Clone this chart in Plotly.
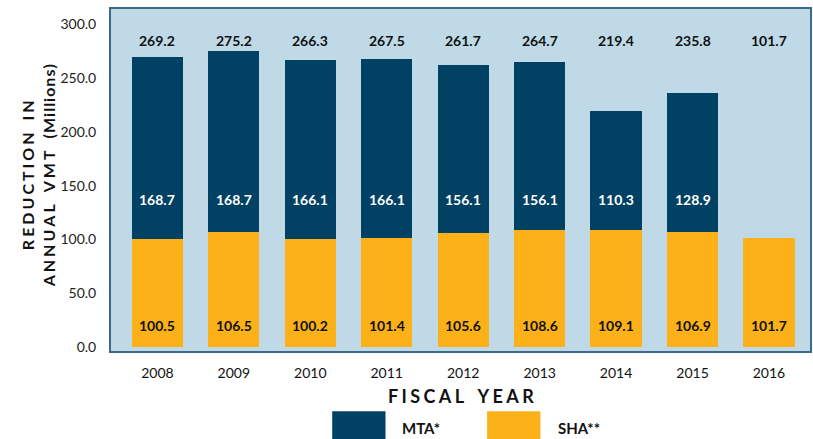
import plotly.graph_objects as go

# Fiscal years and reduction in annual VMT (millions) by agency
years = ["2008", "2009", "2010", "2011", "2012", "2013", "2014", "2015", "2016"]
sha = [100.5, 106.5, 100.2, 101.4, 105.6, 108.6, 109.1, 106.9, 101.7]
mta = [168.7, 168.7, 166.1, 166.1, 156.1, 156.1, 110.3, 128.9, None]
y_ticks = [0, 50, 100, 150, 200, 250, 300]

MTA_COLOR = "#004164"
SHA_COLOR = "#FBB117"
FONT = "Lato, sans-serif"

def spaced(text, sep):
    # widen letter spacing by placing narrow spaces between characters
    words = text.split(" ")
    return "\u2003".join(sep.join(w) for w in words)

totals = [s + (m or 0) for s, m in zip(sha, mta)]

fig = go.Figure()
fig.add_trace(go.Bar(
    x=years, y=sha, name="SHA**", marker=dict(color=SHA_COLOR, line=dict(width=0)),
    width=0.67, hoverinfo="y",
))
fig.add_trace(go.Bar(
    x=years, y=mta, name="MTA*", marker=dict(color=MTA_COLOR, line=dict(width=0)),
    width=0.67, hoverinfo="y",
))

annotations = []
for i, (s, m, t) in enumerate(zip(sha, mta, totals)):
    annotations.append(dict(x=i, y=285, text=f"<b>{t:.1f}</b>", showarrow=False,
                            font=dict(family=FONT, size=14, color="#111111")))
    annotations.append(dict(x=i, y=20, text=f"<b>{s:.1f}</b>", showarrow=False,
                            font=dict(family=FONT, size=14, color="#111111")))
    if m is not None:
        annotations.append(dict(x=i, y=137, text=f"<b>{m:.1f}</b>", showarrow=False,
                                font=dict(family=FONT, size=14, color="white")))

# axis titles
wide = "\u2009\u200a"
annotations.append(dict(
    xref="paper", yref="paper", x=-0.103, y=0.513, xanchor="center", yanchor="middle",
    text="<b>" + spaced("REDUCTION IN", wide) + "</b><br><b>"
         + spaced("ANNUAL VMT", wide) + "\u2003" + spaced("(Millions)", "\u200a") + "</b>",
    textangle=-90, showarrow=False,
    font=dict(family=FONT, size=16, color="#111111"),
))
annotations.append(dict(
    xref="paper", yref="paper", x=0.5, y=-0.128, xanchor="center", yanchor="middle",
    text="<b>" + spaced("FISCAL YEAR", wide) + "</b>",
    showarrow=False, font=dict(family=FONT, size=18, color="#111111"),
))

# custom legend
annotations.append(dict(xref="paper", yref="paper", x=0.414, y=-0.222, xanchor="left",
                        yanchor="middle", text="<b>MTA*</b>", showarrow=False,
                        font=dict(family=FONT, size=15, color="#111111")))
annotations.append(dict(xref="paper", yref="paper", x=0.636, y=-0.222, xanchor="left",
                        yanchor="middle", text="<b>SHA**</b>", showarrow=False,
                        font=dict(family=FONT, size=15, color="#111111")))

shapes = [
    dict(type="rect", xref="paper", yref="paper", x0=0, x1=1, y0=0, y1=1,
         line=dict(color="#3C6A8A", width=2), fillcolor="rgba(0,0,0,0)", layer="above"),
    dict(type="rect", xref="paper", yref="paper", x0=0.317, x1=0.393, y0=-0.172, y1=-0.27,
         line=dict(width=0), fillcolor=MTA_COLOR),
    dict(type="rect", xref="paper", yref="paper", x0=0.538, x1=0.614, y0=-0.172, y1=-0.27,
         line=dict(width=0), fillcolor=SHA_COLOR),
]

fig.update_layout(
    width=813, height=439,
    margin=dict(l=110, r=2, t=8, b=87),
    barmode="stack",
    bargap=0.33,
    showlegend=False,
    paper_bgcolor="white",
    plot_bgcolor="#BFDAE6",
    annotations=annotations,
    shapes=shapes,
    font=dict(family=FONT, color="#222222"),
)
fig.update_xaxes(
    type="category", range=[-0.62, 8.55], showgrid=False, showline=False,
    ticks="outside", ticklen=8, tickcolor="rgba(0,0,0,0)",
    tickfont=dict(family=FONT, size=14, color="#111111"),
)
fig.update_yaxes(
    range=[-4.5, 315], tickvals=y_ticks, tickformat=".1f", showgrid=False,
    zeroline=False, showline=False, ticks="outside", ticklen=10,
    tickcolor="rgba(0,0,0,0)",
    tickfont=dict(family=FONT, size=14, color="#222222"),
)

fig.write_html("out.html")
